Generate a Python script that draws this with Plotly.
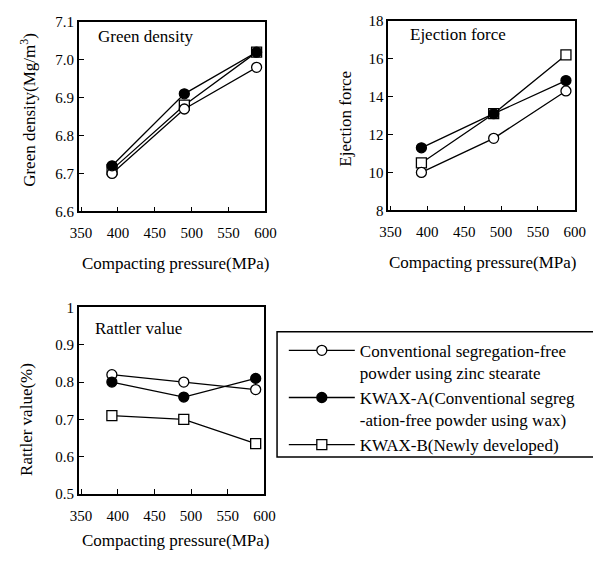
import plotly.graph_objects as go

W, H = 601, 564
OFF = 8  # page body margin in the browser

pressure = [392, 490, 588]

series_names = [
    "Conventional segregation-free<br>powder using zinc stearate",
    "KWAX-A(Conventional segreg<br>-ation-free powder using wax)",
    "KWAX-B(Newly developed)",
]

green_zinc = [6.70, 6.87, 6.98]
green_kwaxa = [6.72, 6.91, 7.02]
green_kwaxb = [6.71, 6.88, 7.02]

eject_zinc = [10.0, 11.8, 14.3]
eject_kwaxa = [11.3, 13.1, 14.85]
eject_kwaxb = [10.5, 13.1, 16.2]

rattler_zinc = [0.82, 0.80, 0.78]
rattler_kwaxa = [0.80, 0.76, 0.81]
rattler_kwaxb = [0.71, 0.70, 0.635]

x_ticks = [350, 400, 450, 500, 550, 600]
green_ticks = [6.6, 6.7, 6.8, 6.9, 7.0, 7.1]
eject_ticks = [8, 10, 12, 14, 16, 18]
rattler_ticks = [0.5, 0.6, 0.7, 0.8, 0.9, 1.0]

FONT = "Liberation Serif"

def px(x):
    return (x - OFF) / W

def py(y):
    return 1 - (y - OFF) / H

fig = go.Figure()

styles = {
    "zinc": dict(symbol="circle", size=10, color="white", line=dict(color="black", width=1.3)),
    "kwaxa": dict(symbol="circle", size=10, color="black", line=dict(color="black", width=1.3)),
    "kwaxb": dict(symbol="square", size=10, color="white", line=dict(color="black", width=1.3)),
}

panels = [
    ("x", "y", green_zinc, green_kwaxa, green_kwaxb, True),
    ("x2", "y2", eject_zinc, eject_kwaxa, eject_kwaxb, False),
    ("x3", "y3", rattler_zinc, rattler_kwaxa, rattler_kwaxb, False),
]

for xa, ya, z, a, b, show in panels:
    # draw order: square at bottom, open circle, filled circle on top
    fig.add_trace(go.Scatter(x=pressure, y=b, mode="lines+markers", name=series_names[2],
                             line=dict(color="black", width=1.3), marker=styles["kwaxb"],
                             xaxis=xa, yaxis=ya, showlegend=show, legendrank=3))
    fig.add_trace(go.Scatter(x=pressure, y=z, mode="lines+markers", name=series_names[0],
                             line=dict(color="black", width=1.3), marker=styles["zinc"],
                             xaxis=xa, yaxis=ya, showlegend=show, legendrank=1))
    fig.add_trace(go.Scatter(x=pressure, y=a, mode="lines+markers", name=series_names[1],
                             line=dict(color="black", width=1.3), marker=styles["kwaxa"],
                             xaxis=xa, yaxis=ya, showlegend=show, legendrank=2))

axis_common = dict(
    showline=True, linecolor="black", linewidth=1.5, mirror=True,
    ticks="inside", ticklen=5, tickwidth=1.2, tickcolor="black",
    showgrid=False, zeroline=False,
    tickfont=dict(family=FONT, size=15, color="black"),
)

xcommon = dict(axis_common, range=[347, 600], tickvals=x_ticks, ticklabelstandoff=7)

fig.update_layout(
    xaxis=dict(xcommon, domain=[px(72), px(265)], anchor="y"),
    yaxis=dict(axis_common, domain=[py(209), py(14)], range=[6.6, 7.1], tickvals=green_ticks,
               tickformat=".1f", anchor="x"),
    xaxis2=dict(xcommon, domain=[px(392), px(585)], anchor="y2"),
    yaxis2=dict(axis_common, domain=[py(208), py(13)], range=[8, 18], tickvals=eject_ticks, anchor="x2"),
    xaxis3=dict(xcommon, domain=[px(72), px(264)], anchor="y3"),
    yaxis3=dict(axis_common, domain=[py(500), py(308)], range=[0.5, 1.0], tickvals=rattler_ticks,
                ticktext=["0.5", "0.6", "0.7", "0.8", "0.9", "1"], anchor="x3"),
)

ann = []
tf = dict(family=FONT, size=17, color="black")
# panel labels
ann.append(dict(text="Green density", x=px(90), y=py(29), xanchor="left", yanchor="middle"))
ann.append(dict(text="Ejection force", x=px(412), y=py(27), xanchor="left", yanchor="middle"))
ann.append(dict(text="Rattler value", x=px(87), y=py(330), xanchor="left", yanchor="middle"))
# x titles
for cx, cy in [(172, 263), (490, 262), (172, 548)]:
    ann.append(dict(text="Compacting pressure(MPa)", x=px(cx), y=py(cy), xanchor="center", yanchor="middle"))
# y titles
ann.append(dict(text="Green density(Mg/m<sup>3</sup>)", x=px(20), y=py(105), textangle=-90,
                xanchor="center", yanchor="middle"))
ann.append(dict(text="Ejection force", x=px(348), y=py(114), textangle=-90,
                xanchor="center", yanchor="middle"))
ann.append(dict(text="Rattler value(%)", x=px(18), y=py(423), textangle=-90,
                xanchor="center", yanchor="middle"))
for a_ in ann:
    a_.update(xref="paper", yref="paper", showarrow=False, font=tf)

fig.update_layout(
    annotations=ann,
    shapes=[dict(type="rect", xref="paper", yref="paper", x0=px(277), x1=px(680),
                 y0=py(462), y1=py(333), line=dict(color="black", width=1.5))],
    legend=dict(x=px(284), y=py(334), xanchor="left", yanchor="top",
                font=dict(family=FONT, size=17, color="black"),
                bgcolor="rgba(0,0,0,0)", borderwidth=0, valign="top",
                itemwidth=66, tracegroupgap=0, traceorder="normal"),
    width=W, height=H,
    margin=dict(l=0, r=0, t=0, b=0),
    paper_bgcolor="white", plot_bgcolor="white",
    font=dict(family=FONT, color="black"),
)

fig.write_html("out.html")
